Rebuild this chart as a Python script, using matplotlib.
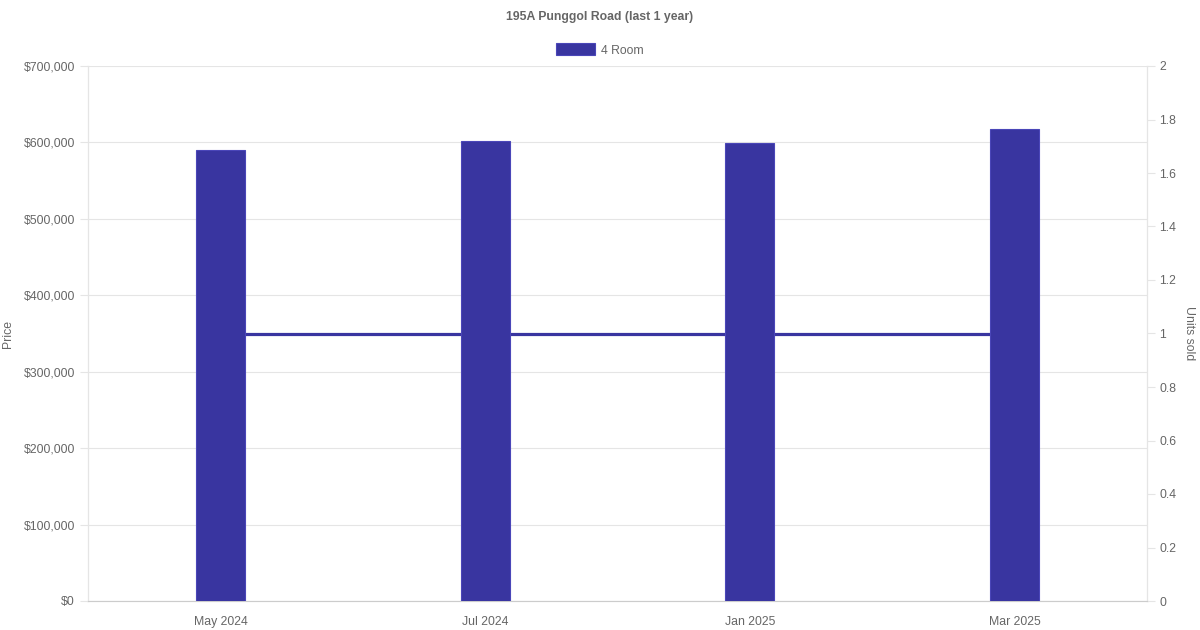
import matplotlib
matplotlib.use('Agg')
import matplotlib.pyplot as plt
from matplotlib.patches import Patch
from matplotlib.ticker import FuncFormatter, MultipleLocator

plt.rcParams['font.family'] = ['Liberation Sans', 'DejaVu Sans']

# ---- data ----
months = ['May 2024', 'Jul 2024', 'Jan 2025', 'Mar 2025']
prices = [590000, 602000, 599000, 617000]
units_sold = [1, 1, 1, 1]
series_label = '4 Room'
title = '195A Punggol Road (last 1 year)'

BAR = '#3935a0'
EDGE = '#4a46b8'
TXT = '#666666'
GRID = '#e5e5e5'
FS = 8.8  # ~12px at 100 dpi

fig = plt.figure(figsize=(12, 6.3), dpi=100)
ax = fig.add_axes([88 / 1200, 29 / 630, (1147 - 88) / 1200, (601 - 66) / 630])
ax2 = ax.twinx()

# bars on the primary axis, drawn above the line of the twin axis
x = list(range(len(months)))
ax.bar(x, prices, width=0.185, color=BAR, edgecolor=EDGE, linewidth=0.8, zorder=3)
ax2.plot(x, units_sold, color=BAR, linewidth=2.3, zorder=2)
ax.set_zorder(ax2.get_zorder() + 1)
ax.patch.set_visible(False)

ax.set_xlim(-0.5, len(months) - 0.5)
ax.set_ylim(0, 700000)
ax.yaxis.set_major_locator(MultipleLocator(100000))
ax.yaxis.set_major_formatter(FuncFormatter(lambda v, p: f'${v:,.0f}'))
ax.set_xticks(x)
ax.set_xticklabels(months)
ax.grid(axis='y', color=GRID, linewidth=0.8, zorder=0)
ax.set_axisbelow(True)

ax2.set_ylim(0, 2)
ax2.yaxis.set_major_locator(MultipleLocator(0.2))
ax2.yaxis.set_major_formatter(FuncFormatter(lambda v, p: f'{v:g}'))

for a in (ax, ax2):
    for s in a.spines.values():
        s.set_color(GRID)
    a.spines['top'].set_visible(False)
ax.spines['bottom'].set_color('#cccccc')

ax.tick_params(axis='y', length=6, width=0.8, color=GRID, labelsize=FS,
               labelcolor=TXT, pad=3.5)
ax.tick_params(axis='x', length=0, labelsize=FS, labelcolor=TXT, pad=10.5)
ax2.tick_params(axis='y', length=6, width=0.8, color=GRID, labelsize=FS,
                labelcolor=TXT, pad=3)

ax.set_ylabel('Price', fontsize=FS, color=TXT, labelpad=7)
ax2.set_ylabel('Units sold', fontsize=FS, color=TXT, rotation=270, labelpad=13)

fig.text(0.5, 1 - 17 / 630, title, ha='center', va='center',
         fontsize=FS, fontweight='bold', color=TXT)

handle = Patch(facecolor=BAR, edgecolor=EDGE, linewidth=0.8)
fig.legend([handle], [series_label], loc='center',
           bbox_to_anchor=(0.5, 1 - 50 / 630), frameon=False,
           handlelength=3.2, handleheight=1.1, handletextpad=0.5,
           fontsize=FS, labelcolor=TXT)

fig.savefig('out.png', dpi=100)
